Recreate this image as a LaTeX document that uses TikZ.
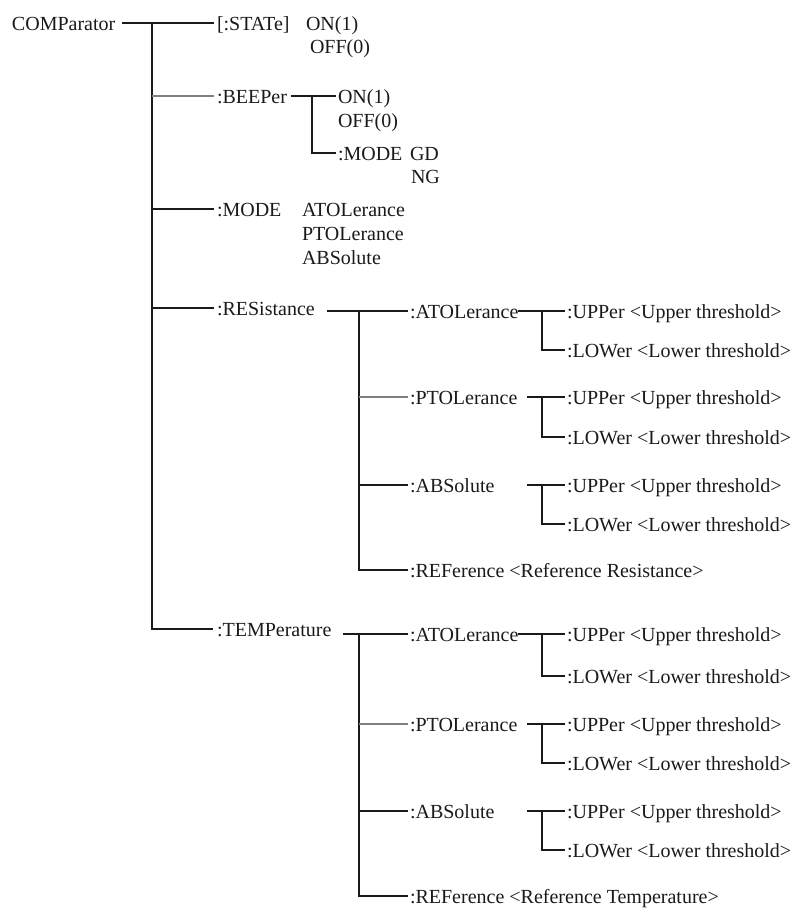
\documentclass[tikz,border=0pt]{standalone}
\usepackage{fontspec}
\setmainfont{Liberation Serif}
\definecolor{txt}{HTML}{1A1A1A}
\definecolor{lgrey}{HTML}{808080}
\begin{document}
\begin{tikzpicture}[x=1pt,y=-1pt,
  lbl/.style={anchor=base west,inner sep=0pt,outer sep=0pt,text height=14pt,text depth=0pt,
    font=\fontsize{20pt}{24pt}\selectfont,text=txt},
  conn/.style={draw=txt,line width=1.3pt},
  gconn/.style={draw=lgrey,line width=1.5pt}]
\fill[white] (0,0) rectangle (795,908);
\useasboundingbox (0,0) rectangle (795,908);

% level 0 and 1
\node[lbl] (comp) at (12,30) {COMParator};
\node[lbl] (state) at (217,30) {[:STATe]};
\node[lbl] (ston) at (306,30) {ON(1)};
\node[lbl] (stoff) at (310,53) {OFF(0)};
\node[lbl] (beep) at (217,103) {:BEEPer};
\node[lbl] (bpon) at (338,103) {ON(1)};
\node[lbl] (bpoff) at (338,127) {OFF(0)};
\node[lbl] (bpmode) at (338,160) {:MODE};
\node[lbl] (bpgd) at (410,160) {GD};
\node[lbl] (bpng) at (411,183) {NG};
\node[lbl] (mode) at (217,216) {:MODE};
\node[lbl] (mda) at (302,216) {ATOLerance};
\node[lbl] (mdp) at (302,240) {PTOLerance};
\node[lbl] (mdb) at (302,264) {ABSolute};
\node[lbl] (res) at (217,315) {:RESistance};
\node[lbl] (temp) at (217,636) {:TEMPerature};

% resistance subtree
\node[lbl] (ra) at (410,318) {:ATOLerance};
\node[lbl] (rau) at (567,318) {:UPPer <Upper threshold>};
\node[lbl] (ral) at (567,357) {:LOWer <Lower threshold>};
\node[lbl] (rp) at (410,404) {:PTOLerance};
\node[lbl] (rpu) at (567,404) {:UPPer <Upper threshold>};
\node[lbl] (rpl) at (567,444) {:LOWer <Lower threshold>};
\node[lbl] (rb) at (410,492) {:ABSolute};
\node[lbl] (rbu) at (567,492) {:UPPer <Upper threshold>};
\node[lbl] (rbl) at (567,531) {:LOWer <Lower threshold>};
\node[lbl] (rr) at (410,577) {:REFerence <Reference Resistance>};

% temperature subtree
\node[lbl] (ta) at (410,641) {:ATOLerance};
\node[lbl] (tau) at (567,641) {:UPPer <Upper threshold>};
\node[lbl] (tal) at (567,683) {:LOWer <Lower threshold>};
\node[lbl] (tp) at (410,731) {:PTOLerance};
\node[lbl] (tpu) at (567,731) {:UPPer <Upper threshold>};
\node[lbl] (tpl) at (567,770) {:LOWer <Lower threshold>};
\node[lbl] (tb) at (410,818) {:ABSolute};
\node[lbl] (tbu) at (567,818) {:UPPer <Upper threshold>};
\node[lbl] (tbl) at (567,857) {:LOWer <Lower threshold>};
\node[lbl] (tr) at (410,903) {:REFerence <Reference Temperature>};

% main trunk
\coordinate (J) at (152,23);
\draw[conn] ([xshift=7pt]comp.east) -- ([xshift=-3pt]state.west);
\draw[conn] (J) |- ([xshift=-4pt]temp.west);
\draw[gconn] (J |- beep.west) -- ([xshift=-3pt]beep.west);
\draw[conn] (J |- mode.west) -- ([xshift=-3pt]mode.west);
\draw[conn] (J |- res.west) -- ([xshift=-3pt]res.west);

% beeper subtree
\coordinate (B) at (312,96);
\draw[conn] ([xshift=4pt]beep.east) -- ([xshift=-2pt]bpon.west);
\draw[conn] (B) |- ([xshift=-2pt]bpmode.west);

% resistance subtree connectors
\coordinate (R) at (359,311);
\draw[conn] ([xshift=12pt]res.east |- ra.west) -- ([xshift=-2pt]ra.west);
\draw[conn] (R) |- ([xshift=-2pt]rr.west);
\draw[gconn] (R |- rp.west) -- ([xshift=-2pt]rp.west);
\draw[conn] (R |- rb.west) -- ([xshift=-2pt]rb.west);
\draw[conn] (ra.east) -- ([xshift=-2pt]rau.west);
\draw[conn] ([xshift=-25pt]rau.west) |- ([xshift=-2pt]ral.west);
\draw[conn] ([xshift=-40pt]rpu.west) -- ([xshift=-2pt]rpu.west);
\draw[conn] ([xshift=-25pt]rpu.west) |- ([xshift=-2pt]rpl.west);
\draw[conn] ([xshift=-40pt]rbu.west) -- ([xshift=-2pt]rbu.west);
\draw[conn] ([xshift=-25pt]rbu.west) |- ([xshift=-2pt]rbl.west);

% temperature subtree connectors
\coordinate (T) at (359,634);
\draw[conn] ([xshift=12pt]temp.east |- ta.west) -- ([xshift=-2pt]ta.west);
\draw[conn] (T) |- ([xshift=-2pt]tr.west);
\draw[gconn] (T |- tp.west) -- ([xshift=-2pt]tp.west);
\draw[conn] (T |- tb.west) -- ([xshift=-2pt]tb.west);
\draw[conn] (ta.east) -- ([xshift=-2pt]tau.west);
\draw[conn] ([xshift=-25pt]tau.west) |- ([xshift=-2pt]tal.west);
\draw[conn] ([xshift=-40pt]tpu.west) -- ([xshift=-2pt]tpu.west);
\draw[conn] ([xshift=-25pt]tpu.west) |- ([xshift=-2pt]tpl.west);
\draw[conn] ([xshift=-40pt]tbu.west) -- ([xshift=-2pt]tbu.west);
\draw[conn] ([xshift=-25pt]tbu.west) |- ([xshift=-2pt]tbl.west);
\end{tikzpicture}
\end{document}
